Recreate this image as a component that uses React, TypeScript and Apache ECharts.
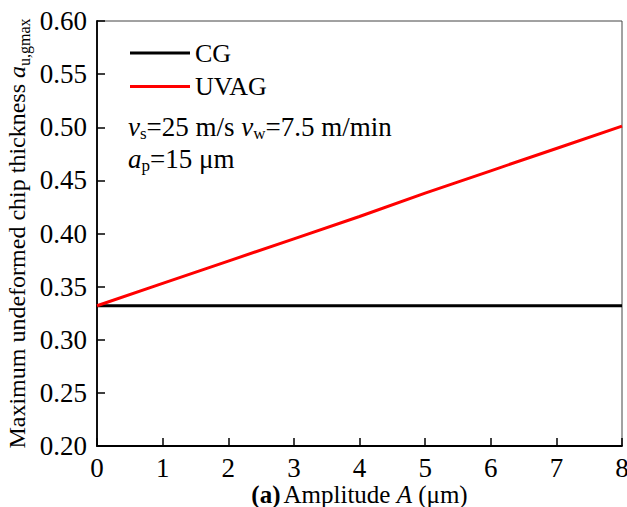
import React, { useEffect, useRef } from "react";
import * as echarts from "echarts";

const amplitude = [0, 1, 2, 3, 4, 5, 6, 7, 8];
const cgValues = [0.332, 0.332, 0.332, 0.332, 0.332, 0.332, 0.332, 0.332, 0.332];
const uvagValues = [0.332, 0.353, 0.374, 0.395, 0.416, 0.438, 0.459, 0.480, 0.501];
const seriesNames = ["CG", "UVAG"];

const FONT = "Liberation Serif";

export default function App() {
  const ref = useRef<HTMLDivElement>(null);
  useEffect(() => {
    document.body.style.margin = "0";
    document.body.style.overflow = "hidden";
    if (!ref.current) return;
    const chart = echarts.init(ref.current, null, { renderer: "svg" });
    const mk = (size: number, lh = 30) => ({ fontFamily: FONT, fontSize: size, color: "#000", lineHeight: lh });
    const base27 = mk(27);
    const it27 = { ...base27, fontStyle: "italic" };
    const sub17 = { fontFamily: FONT, fontSize: 17, color: "#000", verticalAlign: "bottom", lineHeight: 11 };
    const base25 = mk(25, 26);
    const it25 = { ...base25, fontStyle: "italic" };
    const base24 = mk(24);
    const it24 = { ...base24, fontStyle: "italic" };
    const sub16 = { fontFamily: FONT, fontSize: 16, color: "#000", verticalAlign: "bottom", lineHeight: 12 };
    chart.setOption({
      animation: false,
      backgroundColor: "#fff",
      textStyle: { fontFamily: FONT },
      grid: {
        left: 97,
        right: 5,
        top: 21,
        bottom: 61,
        containLabel: false,
        outerBoundsMode: "none",
        show: true,
        borderColor: "#444",
        borderWidth: 1,
      },
      legend: {
        data: seriesNames.map((n) => ({ name: n, icon: "rect" })),
        orient: "vertical",
        left: 130,
        top: 39,
        padding: 0,
        itemWidth: 60,
        itemHeight: 3,
        itemGap: 5.5,
        textStyle: { fontFamily: FONT, fontSize: 26, color: "#000", lineHeight: 26, padding: [2, 0, 0, 0] },
      },
      xAxis: {
        type: "value",
        min: 0,
        max: 8,
        interval: 1,
        name: "{b|(a)} {n|Amplitude }{i|A}{n| (μm)}",
        nameLocation: "middle",
        nameGap: 35,
        nameMoveOverlap: false,
        nameTextStyle: {
          lineHeight: 26,
          rich: {
            b: { ...base25, fontWeight: "bold" },
            n: base25,
            i: it25,
          },
        },
        axisLine: { show: true, lineStyle: { color: "#000", width: 1.8 } },
        axisTick: { show: true, inside: true, length: 8, lineStyle: { color: "#000", width: 1.5 } },
        axisLabel: { fontFamily: FONT, fontSize: 27, color: "#000", margin: 8 },
        splitLine: { show: false },
      },
      yAxis: {
        type: "value",
        min: 0.2,
        max: 0.6,
        interval: 0.05,
        name: "{n|Maximum undeformed chip thickness }{i|a}{s|u,gmax}",
        nameLocation: "middle",
        nameGap: 65,
        nameMoveOverlap: false,
        nameTextStyle: {
          rich: { n: base24, i: it24, s: sub16 },
        },
        axisLine: { show: true, lineStyle: { color: "#000", width: 1.8 } },
        axisTick: { show: true, inside: true, length: 8, lineStyle: { color: "#000", width: 1.5 } },
        axisLabel: {
          fontFamily: FONT,
          fontSize: 27,
          color: "#000",
          margin: 10,
          formatter: (v: number) => v.toFixed(2),
        },
        splitLine: { show: false },
      },
      graphic: [
        {
          type: "text",
          left: 128,
          top: 113,
          style: {
            text: "{i|v}{s|s}{n|=25 m/s }{i|v}{s|w}{n|=7.5 m/min}",
            rich: { n: base27, i: it27, s: sub17 },
          },
        },
        {
          type: "text",
          left: 128,
          top: 145,
          style: {
            text: "{i|a}{s|p}{n|=15 μm}",
            rich: { n: base27, i: it27, s: sub17 },
          },
        },
      ],
      series: [
        {
          name: seriesNames[0],
          type: "line",
          data: amplitude.map((a, i) => [a, cgValues[i]]),
          symbol: "none",
          lineStyle: { color: "#000", width: 3.2 },
          itemStyle: { color: "#000" },
        },
        {
          name: seriesNames[1],
          type: "line",
          data: amplitude.map((a, i) => [a, uvagValues[i]]),
          symbol: "none",
          lineStyle: { color: "#ff0000", width: 3 },
          itemStyle: { color: "#ff0000" },
        },
      ],
    });
    return () => chart.dispose();
  }, []);
  return <div ref={ref} style={{ width: 627, height: 507 }} />;
}
